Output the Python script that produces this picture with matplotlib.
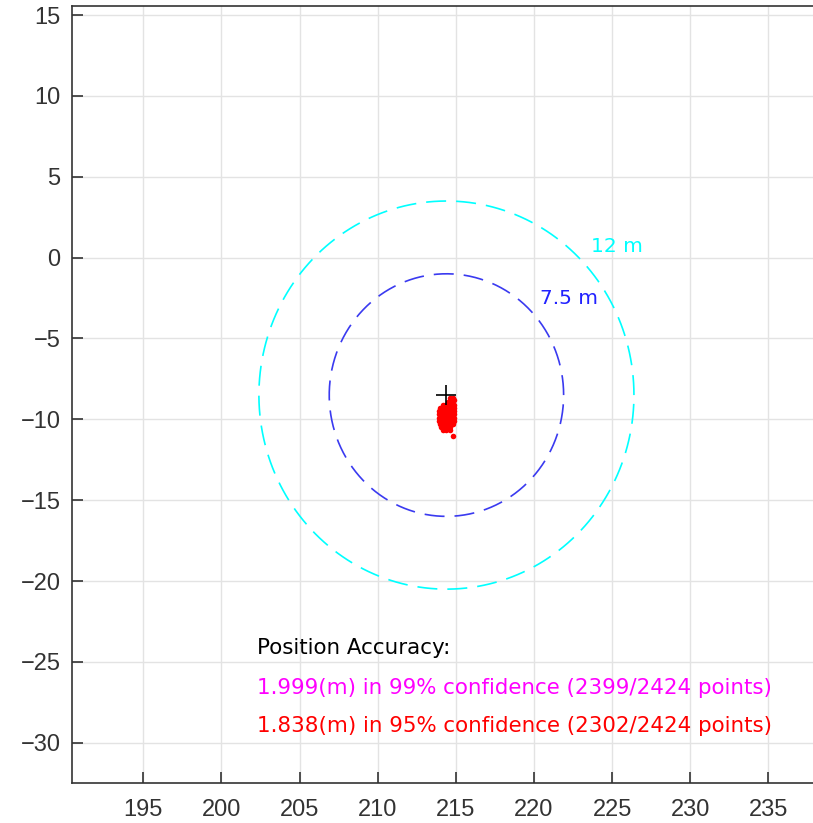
import numpy as np
import matplotlib
matplotlib.use("Agg")
import matplotlib.pyplot as plt

# reference position and accuracy radii
center_x = 214.4
center_y = -8.5
radii = [7.5, 12]
radius_labels = ["7.5 m", "12 m"]
radius_colors = ["#3a3af0", "#00ffff"]
label_colors = ["#2222ff", "#00ffff"]

# position fixes
fix_x = [214.6, 214.8, 214.9, 214.5, 214.7,
         214.2, 214.4, 214.6, 214.8, 214.9,
         214.0, 214.2, 214.4, 214.6, 214.8, 214.9,
         213.95, 214.1, 214.3, 214.5, 214.7, 214.9,
         213.9, 214.1, 214.3, 214.5, 214.7, 214.9,
         213.9, 214.1, 214.3, 214.5, 214.7, 214.9,
         213.95, 214.15, 214.35, 214.55, 214.75, 214.9,
         214.0, 214.2, 214.4, 214.6, 214.8,
         214.05, 214.25, 214.45, 214.65,
         214.2, 214.4, 214.6,
         214.85]
fix_y = [-8.7, -8.7, -8.8, -8.9, -8.9,
         -9.1, -9.1, -9.1, -9.1, -9.1,
         -9.3, -9.3, -9.3, -9.3, -9.3, -9.3,
         -9.5, -9.5, -9.5, -9.5, -9.5, -9.5,
         -9.7, -9.7, -9.7, -9.7, -9.7, -9.7,
         -9.9, -9.9, -9.9, -9.9, -9.9, -9.9,
         -10.1, -10.1, -10.1, -10.1, -10.1, -10.1,
         -10.3, -10.3, -10.3, -10.3, -10.3,
         -10.5, -10.5, -10.5, -10.5,
         -10.65, -10.65, -10.65,
         -11.05]

xticks = [195, 200, 205, 210, 215, 220, 225, 230, 235]
yticks = [-30, -25, -20, -15, -10, -5, 0, 5, 10, 15]

title_line = "Position Accuracy:"
line99 = "1.999(m) in 99% confidence (2399/2424 points)"
line95 = "1.838(m) in 95% confidence (2302/2424 points)"

fig = plt.figure(figsize=(8.13, 8.23), dpi=100)
# axes run slightly past the right edge, like the cropped original
ax = fig.add_axes([71.7 / 813, 1 - 782.7 / 823, (816 - 71.7) / 813, (782.7 - 6) / 823])

t = np.linspace(0, 2 * np.pi, 400)
for r, c in zip(radii, radius_colors):
    ax.plot(center_x + r * np.cos(t), center_y + r * np.sin(t), color=c,
            lw=1.2, dashes=(12, 6))

ax.scatter(fix_x, fix_y, s=16, color="red", zorder=3, linewidths=0)
ax.plot(center_x, center_y, marker="+", color="black", ms=14, mew=1.2, zorder=4)

ax.text(220.4, -2.5, radius_labels[0], color=label_colors[0], fontsize=14.5, va="center")
ax.text(223.65, 0.7, radius_labels[1], color=label_colors[1], fontsize=14.5, va="center")

ax.text(202.3, -24.15, title_line, color="black", fontsize=15.4, va="center")
ax.text(202.3, -26.62, line99, color="#ff00ff", fontsize=15.4, va="center")
ax.text(202.3, -28.97, line95, color="red", fontsize=15.4, va="center")

ax.set_xlim(190.42, 238.05)
ax.set_ylim(-32.47, 15.56)
ax.set_xticks(xticks)
ax.set_yticks(yticks)
ax.set_yticklabels(["\u2212" + str(-v) if v < 0 else str(v) for v in yticks])
ax.grid(True, color="#e3e3e3", lw=1)
ax.set_axisbelow(True)
ax.tick_params(direction="in", length=8, width=1.2, colors="#333333", labelsize=17)
ax.tick_params(axis="x", pad=12)
ax.tick_params(axis="y", pad=8)
for lab in ax.get_xticklabels() + ax.get_yticklabels():
    lab.set_family(["Liberation Sans", "DejaVu Sans"])
for s in ax.spines.values():
    s.set_color("#333333")
    s.set_linewidth(1.2)

fig.savefig("out.png", dpi=100)
